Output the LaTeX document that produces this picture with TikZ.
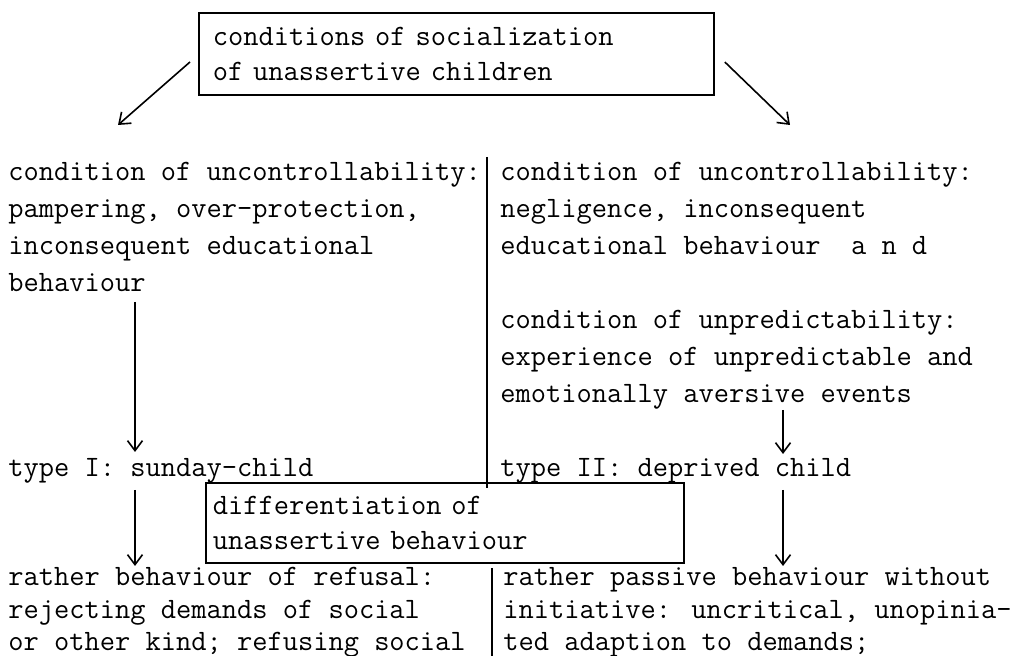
\documentclass[tikz,border=0pt]{standalone}
\usepackage{fontspec}
\usetikzlibrary{arrows.meta}

\begin{document}
\begin{tikzpicture}[x=0.5pt, y=-0.5pt,
  txt/.style={anchor=base west, inner sep=0pt, align=left,
    font=\fontsize{14.8}{18.5}\selectfont\ttfamily},
  tight/.style={txt, font=\fontsize{14.8}{16.3}\selectfont\ttfamily},
  frame/.style={draw, line width=0.9pt, anchor=north west, align=left,
    inner ysep=0pt, font=\fontsize{14.8}{17.5}\selectfont\ttfamily},
  link/.style={-{Straight Barb[length=5pt,width=7.5pt]}, line width=0.8pt},
  divider/.style={line width=1.4pt}]
  \useasboundingbox (0,0) rectangle (1013,656);
  % boxes (base of a text block = its last line)
  \node[frame, inner xsep=7pt, text width=243.5pt, minimum height=41pt]
    (soc) at (198,12) {conditions of socialization\\of unassertive children};
  \node[frame, inner xsep=3.5pt, text width=232pt, minimum height=40pt]
    (diff) at (205,482) {differentiation of\\unassertive behaviour};
  % left column
  \node[txt] (uncL) at (8,292) {condition of uncontrollability:\\pampering, over-protection,\\inconsequent educational\\behaviour};
  \node[txt] (typeI) at (8,477) {type I: sunday-child};
  \node[tight] (refusal) at (8,651) {rather behaviour of refusal:\\rejecting demands of social\\or other kind; refusing social};
  % right column
  \node[txt] (uncR) at (500,255) {condition of uncontrollability:\\negligence, inconsequent\\educational behaviour~ a n d};
  \node[txt] (unpred) at (500,403) {condition of unpredictability:\\experience of unpredictable and\\emotionally aversive events};
  \node[txt] (typeII) at (500,477) {type II: deprived child};
  \node[tight] (passive) at (503,651) {rather passive behaviour without\\initiative: uncritical, unopinia-\\ted adaption to demands;};
  % dividers
  \coordinate (vt) at (487,157);
  \coordinate (vb) at (487,488);
  \coordinate (wt) at (492,568);
  \coordinate (wb) at (492,656);
  \draw[divider] (vt) -- (vb);
  \draw[divider] (wt) -- (wb);
  % arrows from the top box
  \coordinate (dl) at (118,125);
  \coordinate (dr) at (790,125);
  \draw[link] (soc.west |- 0,62) ++(-8,0) -- (dl);
  \draw[link] (soc.east |- 0,62) ++(10,0) -- (dr);
  % arrows down the columns
  \coordinate (aL) at (135,302);
  \coordinate (aR) at (783,410);
  \draw[link] (aL) -- (aL |- 0,452);
  \draw[link] (aR) -- (aR |- 0,454);
  \draw[link] (aL |- 0,490) -- (aL |- 0,566);
  \draw[link] (aR |- 0,490) -- (aR |- 0,566);
\end{tikzpicture}
\end{document}
